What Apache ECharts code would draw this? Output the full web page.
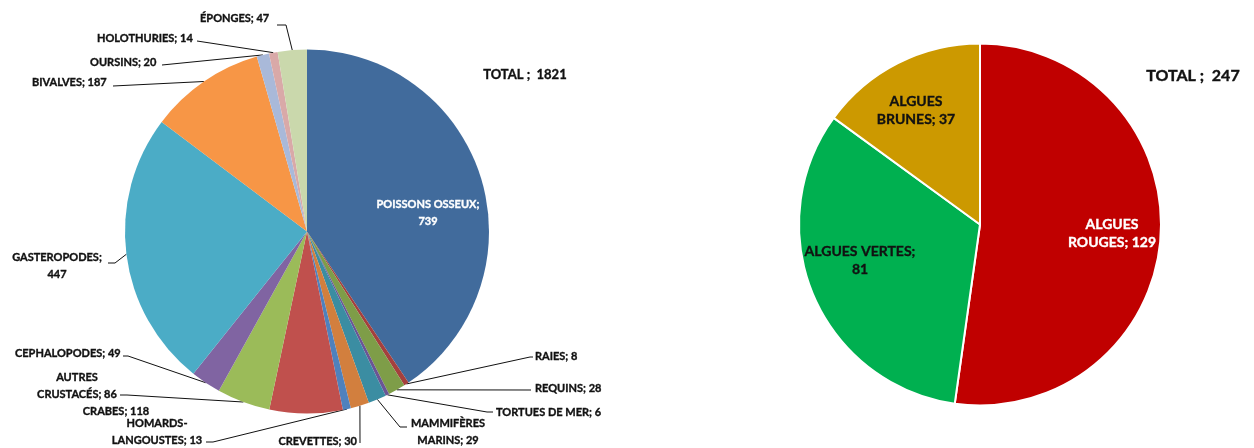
<!DOCTYPE html>
<html><head><meta charset="utf-8">
<script src="https://cdn.jsdelivr.net/npm/echarts@6/dist/echarts.min.js"></script>
<style>html,body{margin:0;padding:0;background:#fff}#c{width:1254px;height:448px}</style>
</head><body><div id="c"></div>
<script>
// ---- data ----
const leftCategories = ["POISSONS OSSEUX","RAIES","REQUINS","TORTUES DE MER","MAMMIFÈRES MARINS","CREVETTES","HOMARDS-LANGOUSTES","CRABES","AUTRES CRUSTACÉS","CEPHALOPODES","GASTEROPODES","BIVALVES","OURSINS","HOLOTHURIES","ÉPONGES"];
const leftValues = [739,8,28,6,29,30,13,118,86,49,447,187,20,14,47];
const leftTotalLabel = "TOTAL ;  1821";
const rightCategories = ["ALGUES ROUGES","ALGUES VERTES","ALGUES BRUNES"];
const rightValues = [129,81,37];
const rightTotalLabel = "TOTAL ;  247";

// ---- styles / layout ----
const leftColors = ["#416B9C","#A4403D","#7E9D48","#6B5594","#3B8DA2","#D27F3E","#4F81BD","#C0504D","#9BBB59","#8064A2","#4BACC6","#F79646","#A9B9D9","#D9A9A8","#CAD8AC"];
const rightColors = ["#C00000","#00B050","#CC9900"];
const FONT = "Lato";
// wrap mode: 0 one line, 1 break before value, 2 break after first word
// [x, y, align, wrap, linePts(after pie point) or null, color]
const leftLayout = [
  [428,213,'center',1,null,'#fff'],
  [535,356,'left',0,[[530,357],[533,357]]],
  [535,388,'left',0,[[531,390]]],
  [496,412,'left',0,[[487,412],[493,412]]],
  [448,432,'center',2,[[400,427],[407,427]]],
  [357,441,'right',0,[[360,443]]],
  [157,432,'center',2,[[213,442],[206,442]]],
  [116,411,'center',0,null],
  [77,386,'center',2,[[127,395],[120,395]]],
  [15,353,'left',0,[[128,356],[123,356]]],
  [57,266,'center',1,[[115,263],[108,263]]],
  [32,82,'left',0,[[113,86]]],
  [90,62,'left',0,[[162,65]]],
  [97,38,'left',0,[[197,41]]],
  [200,18,'left',0,[[286,25],[277,25]]]
];
const rightLayout = [
  [1112,233,'#fff',2],
  [860,260,'#111',1],
  [916,110,'#111',2]
];

function labelText(name, v, mode){
  if(mode===1) return name+';\n'+v;
  if(mode===2){
    const i = name.indexOf('-')>=0 ? name.indexOf('-')+1 : name.indexOf(' ');
    const a = name.slice(0,i).trim(), b = name.slice(i).trim();
    return a+'\n'+b+'; '+v;
  }
  return name+'; '+v;
}

const leftData = leftCategories.map((n,i)=>{
  const c = leftLayout[i][5]||'#111';
  return {
    name:n, value:leftValues[i],
    itemStyle:{color:leftColors[i]},
    label:{color:c, textBorderColor:c, textBorderWidth:0.35},
    labelLine:{show:!!leftLayout[i][4]}
  };
});
const rightData = rightCategories.map((n,i)=>({
  name:n, value:rightValues[i],
  itemStyle:{color:rightColors[i]},
  label:{color:rightLayout[i][2], textBorderColor:rightLayout[i][2], textBorderWidth:0.35}
}));

const chart = echarts.init(document.getElementById('c'), null, {renderer:'canvas'});
chart.setOption({
  animation:false,
  backgroundColor:'#fff',
  graphic:[
    {type:'text', left:483, top:68, style:{text:leftTotalLabel, font:'bold 13px '+FONT, fill:'#111', stroke:'#111', lineWidth:0.35}},
    {type:'text', left:1146, top:68, style:{text:rightTotalLabel, font:'bold 16px '+FONT, fill:'#111', stroke:'#111', lineWidth:0.4}}
  ],
  series:[
    {
      type:'pie', center:[307,231.5], radius:182, startAngle:90, clockwise:true,
      avoidLabelOverlap:false, silent:true,
      itemStyle:{borderWidth:0},
      label:{show:true, position:'outside', fontFamily:FONT, fontWeight:'bold', fontSize:11, lineHeight:17,
        formatter:p=>labelText(p.name,p.value,leftLayout[p.dataIndex][3])},
      labelLine:{show:true, length:10, length2:10, lineStyle:{color:'#111', width:1}},
      labelLayout:function(p){
        const L = leftLayout[p.dataIndex];
        const o = {x:L[0], y:L[1], align:L[2], verticalAlign:'middle'};
        if(L[4] && p.labelLinePoints){
          o.labelLinePoints = [p.labelLinePoints[0]].concat(L[4]);
        }
        return o;
      },
      data:leftData
    },
    {
      type:'pie', center:[980,224.5], radius:181, startAngle:90, clockwise:true,
      avoidLabelOverlap:false, silent:true,
      itemStyle:{borderColor:'#fff', borderWidth:2},
      label:{show:true, position:'inside', fontFamily:FONT, fontWeight:'bold', fontSize:14, lineHeight:18,
        formatter:p=>labelText(p.name,p.value,rightLayout[p.dataIndex][3])},
      labelLine:{show:false},
      labelLayout:function(p){
        const L = rightLayout[p.dataIndex];
        return {x:L[0], y:L[1], align:'center', verticalAlign:'middle'};
      },
      data:rightData
    }
  ]
});
</script>
</body></html>
